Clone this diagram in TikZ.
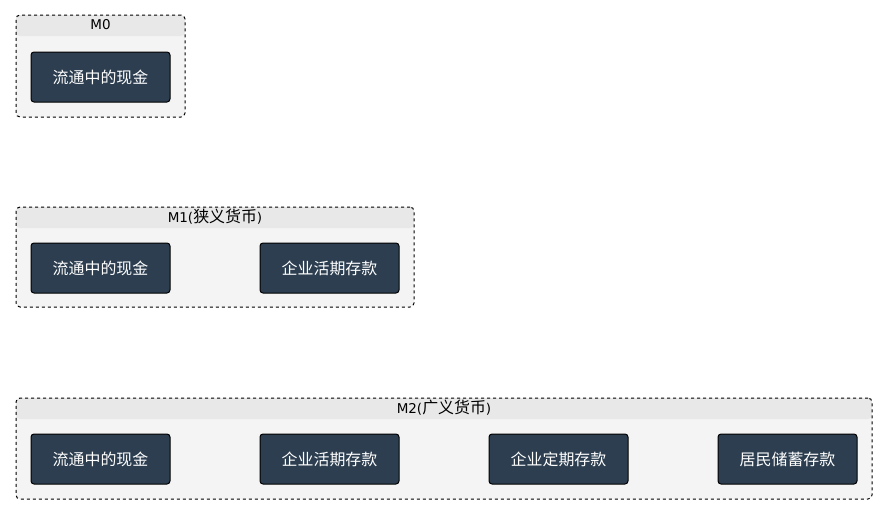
\documentclass[tikz,border=0pt]{standalone}
\usepackage{fontspec}
\setmainfont{DejaVu Sans}
\newfontfamily\cjk[Scale=1.18]{Noto Sans CJK SC}
\usepackage{xcolor}
\definecolor{leafblue}{HTML}{2C3E50}
\definecolor{clustergray}{HTML}{F4F4F4}
\definecolor{bandgray}{HTML}{E8E8E8}

\begin{document}
\begin{tikzpicture}[x=1pt,y=-1pt,
    font=\fontsize{13.5}{15}\selectfont,
    money/.style={draw=black,line width=1pt,fill=leafblue,text=white,rounded corners=3pt,minimum width=139pt,minimum height=50pt,inner sep=0pt},
    cluster/.style={draw=black,line width=1pt,dash pattern=on 3pt off 3pt,fill=clustergray,rounded corners=4pt,inner sep=0pt,
      path picture={\fill[bandgray] (path picture bounding box.north west) rectangle ([yshift=-21pt]path picture bounding box.north east);}},
    title/.style={anchor=center,yshift=-10.5pt,inner sep=0pt}]
            \useasboundingbox (0,0) rectangle (887,514);
            % M0
            \node[cluster,minimum width=169pt,minimum height=102pt,label={[title]north:M0}] at (100.5,66) (m0) {};
            \node[money] at (100.5,77) (m0cash) {\cjk 流通中的现金};
            % M1
            \node[cluster,minimum width=398pt,minimum height=100pt,label={[title]north:M1({\cjk 狭义货币})}] at (215,257) (m1) {};
            \node[money] at (100.5,268) (m1cash) {\cjk 流通中的现金};
            \node[money] at (329.5,268) (m1demand) {\cjk 企业活期存款};
            % M2
            \node[cluster,minimum width=856pt,minimum height=101pt,label={[title]north:M2({\cjk 广义货币})}] at (444,448.5) (m2) {};
            \node[money] at (100.5,459) (m2cash) {\cjk 流通中的现金};
            \node[money] at (329.5,459) (m2demand) {\cjk 企业活期存款};
            \node[money] at (558.5,459) (m2time) {\cjk 企业定期存款};
            \node[money] at (787.5,459) (m2savings) {\cjk 居民储蓄存款};
          \end{tikzpicture}
\end{document}
